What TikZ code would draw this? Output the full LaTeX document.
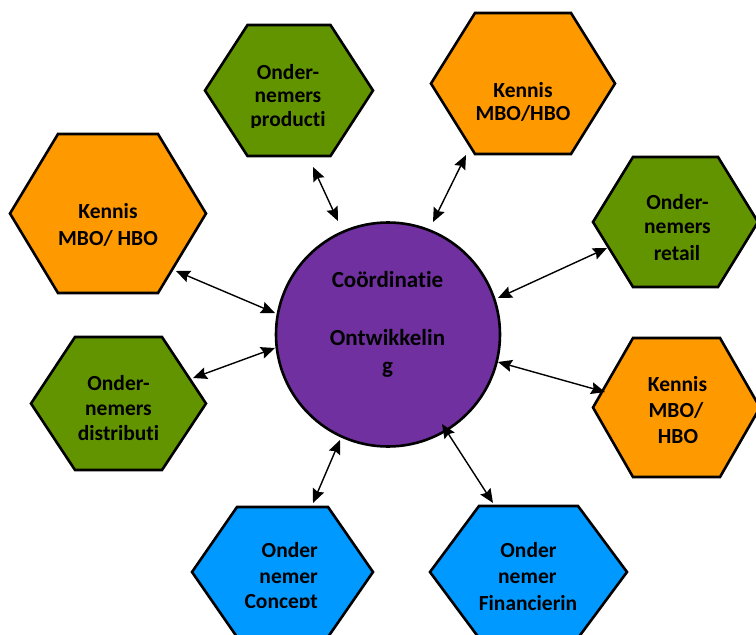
\documentclass[tikz,border=0pt]{standalone}
\usepackage{fontspec}
\setmainfont{Carlito}[Ligatures={NoCommon,NoContextual}]
\usetikzlibrary{arrows.meta,calc}

\definecolor{leaf}{RGB}{98,148,0}
\definecolor{amber}{RGB}{255,153,0}
\definecolor{sky}{RGB}{0,153,255}
\definecolor{plum}{RGB}{112,48,160}

% keeps t and i as separate glyphs
\newcommand\tI{t\kern0pt i}

\tikzset{
  hexbox/.style={draw=none, inner sep=0pt, outer sep=0pt},
  hexline/.style={draw=black, line width=2.6pt, line join=miter},
  lbl/.style={inner sep=0pt, anchor=base, font=\fontsize{21.5}{26}\selectfont\bfseries},
  corelbl/.style={inner sep=0pt, anchor=base, font=\fontsize{23}{28}\selectfont\bfseries},
  core/.style={circle, draw=black, line width=2.6pt, fill=plum, inner sep=0pt, minimum size=224pt},
  link/.style={line width=1.4pt, {Stealth[length=14pt,width=12pt,inset=2pt]}-{Stealth[length=14pt,width=12pt,inset=2pt]}}
}

% \hexcell{name}{cx}{cy}{half width}{half height}{inset of top edge}{fill}
\newcommand\hexcell[7]{%
  \node[hexbox, minimum width={2*#4pt}, minimum height={2*#5pt}] (#1) at (#2,#3) {};
  \filldraw[hexline, fill=#7]
    ($(#1.north west)+(#6,0)$) -- ($(#1.north east)+(-#6,0)$) -- (#1.east)
    -- ($(#1.south east)+(-#6,0)$) -- ($(#1.south west)+(#6,0)$) -- (#1.west) -- cycle;
}

\begin{document}
\begin{tikzpicture}[x=1pt,y=-1pt]
  \useasboundingbox (0,0) rectangle (756,635);

  % outer cells
  \hexcell{prod}{289}{90.5}{84}{65.5}{42.5}{leaf}
  \hexcell{kenA}{523}{83.5}{92}{70.5}{44}{amber}
  \hexcell{kenB}{108}{213.5}{98}{79.5}{48}{amber}
  \hexcell{ret}{675.5}{222}{82.5}{65}{40}{leaf}
  \hexcell{dist}{118.5}{403.5}{87.5}{66.5}{44}{leaf}
  \hexcell{kenC}{676.5}{407.5}{83.5}{69.5}{40}{amber}
  \hexcell{conc}{282.5}{572}{90.5}{65}{45}{sky}
  \hexcell{fin}{528.5}{572}{98.5}{66}{49}{sky}

  % central circle
  \node[core] (core) at (388,334.5) {};

  % cell labels
  \node[lbl] (prodA) at (288,79) {Onder-};
  \node[lbl] (prodB) at (288,102.5) {nemers};
  \begin{scope}
    \clip (205,25) rectangle (373,127.5);
    \node[lbl] (prodC) at (288,126) {produc\tI};
  \end{scope}

  \node[lbl] (kenAa) at (523,97) {Kennis};
  \node[lbl] (kenAb) at (523,120.5) {MBO/HBO};

  \node[lbl] (kenBa) at (108,218) {Kennis};
  \node[lbl] (kenBb) at (108,245) {MBO/ HBO};

  \node[lbl] (retA) at (677.5,209.3) {Onder-};
  \node[lbl] (retB) at (677.5,233.3) {nemers};
  \node[lbl] (retC) at (677,260) {retail};

  \node[lbl] (distA) at (118.5,390) {Onder-};
  \node[lbl] (distB) at (118.5,415) {nemers};
  \node[lbl] (distC) at (118.5,440.7) {distribu\tI};

  \node[lbl] (kenCa) at (677.5,391.7) {Kennis};
  \node[lbl] (kenCb) at (676,417) {MBO/};
  \node[lbl] (kenCc) at (678,443) {HBO};

  \node[lbl, anchor=base east] (concA) at (318,557) {Onder};
  \node[lbl, anchor=base east] (concB) at (318,583) {nemer};
  \begin{scope}
    \clip (192,507) rectangle (373,607.5);
    \node[lbl, anchor=base east] (concC) at (318,608) {Concept};
  \end{scope}

  \node[lbl, anchor=base east] (finA) at (556.7,557) {Onder};
  \node[lbl, anchor=base east] (finB) at (556.7,583) {nemer};
  \node[lbl] (finC) at (528,610) {Financierin};

  % circle labels
  \node[corelbl] (coreA) at (387.5,287) {Coördina\tI e};
  \node[corelbl] (coreB) at (387.5,345) {Ontwikkelin};
  \node[corelbl] (coreC) at (387.5,373.3) {g};

  % connector ends
  \coordinate (prodE) at (313,167);   \coordinate (coreE1) at (338,221);
  \coordinate (kenAE) at (466,155);   \coordinate (coreE2) at (433,222);
  \coordinate (kenBE) at (176,271);   \coordinate (coreE3) at (275,313);
  \coordinate (distE) at (193,378);   \coordinate (coreE4) at (275,348);
  \coordinate (retE)  at (607,248);   \coordinate (coreE5) at (498,298);
  \coordinate (kenCE) at (605,392);   \coordinate (coreE6) at (498,362);
  \coordinate (concE) at (313,503);   \coordinate (coreE7) at (340,440);
  \coordinate (finE)  at (493,503);   \coordinate (coreE8) at (442,424);

  % two-way connectors
  \draw[link] (prodE) -- (coreE1);
  \draw[link] (kenAE) -- (coreE2);
  \draw[link] (kenBE) -- (coreE3);
  \draw[link] (distE) -- (coreE4);
  \draw[link] (retE)  -- (coreE5);
  \draw[link] (kenCE) -- (coreE6);
  \draw[link] (concE) -- (coreE7);
  \draw[link] (finE)  -- (coreE8);
\end{tikzpicture}
\end{document}
